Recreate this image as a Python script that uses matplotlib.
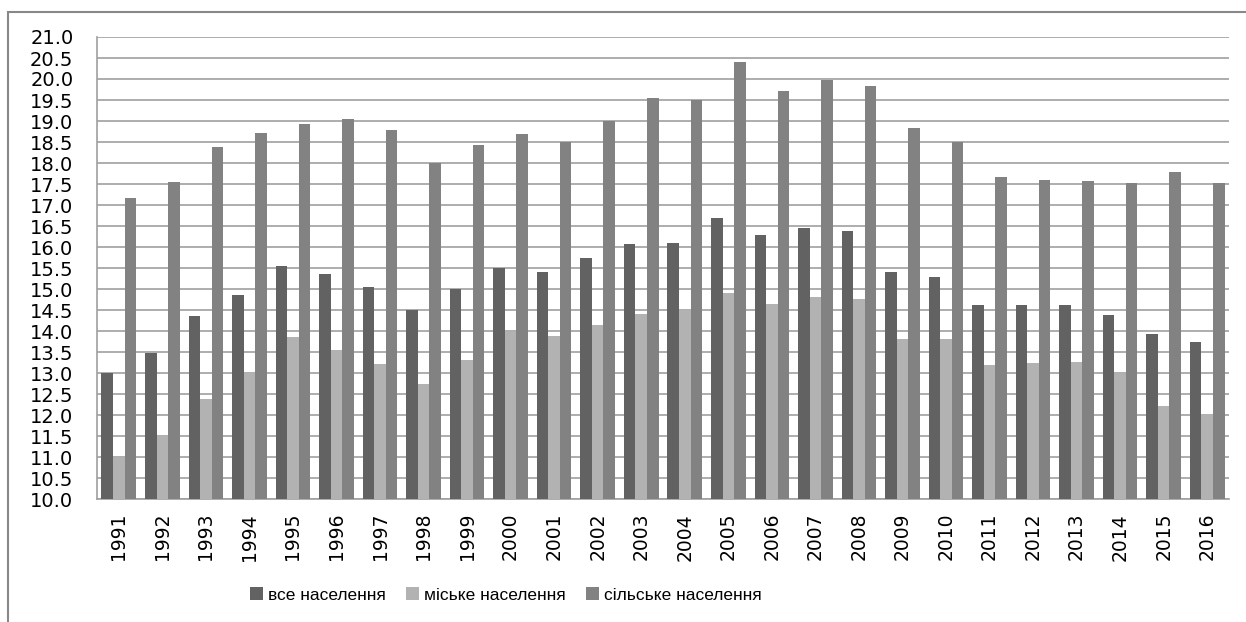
import matplotlib
matplotlib.use("Agg")
import matplotlib.pyplot as plt
import numpy as np
from matplotlib.patches import Rectangle

years = [str(y) for y in range(1991, 2017)]
all_pop = [13.0, 13.47, 14.35, 14.86, 15.54, 15.36, 15.05, 14.49, 15.0, 15.51,
           15.41, 15.75, 16.08, 16.10, 16.68, 16.29, 16.46, 16.39, 15.41, 15.28,
           14.61, 14.61, 14.63, 14.38, 13.94, 13.73]
urban = [10.98, 11.51, 12.39, 13.0, 13.86, 13.55, 13.22, 12.75, 13.32, 13.97,
         13.89, 14.15, 14.41, 14.50, 14.90, 14.64, 14.82, 14.76, 13.81, 13.81,
         13.19, 13.24, 13.27, 12.97, 12.21, 12.03]
rural = [17.16, 17.55, 18.38, 18.71, 18.94, 19.05, 18.78, 18.0, 18.43, 18.69,
         18.50, 19.01, 19.54, 19.51, 20.40, 19.72, 19.98, 19.83, 18.84, 18.50,
         17.66, 17.60, 17.58, 17.52, 17.78, 17.52]
series_names = ["все населення", "міське населення", "сільське населення"]
colors = ["#626262", "#b2b2b2", "#828282"]

plt.rcParams['font.family'] = ['DejaVu Sans']

fig = plt.figure(figsize=(12.46, 6.22), dpi=100)
# outer chart border (left and top visible)
fig.patches.append(Rectangle((8/1246, -0.1), 1.2, 1 - 12/622 + 0.1,
                             transform=fig.transFigure, fill=False,
                             edgecolor="#888888", linewidth=1.5))

ax = fig.add_axes([97/1246, 1 - 499/622, (1229-97)/1246, (499-37)/622])
x = np.arange(len(years))
w = 0.265
for i, (vals, name, c) in enumerate(zip([all_pop, urban, rural], series_names, colors)):
    ax.bar(x + (i - 1) * w, np.array(vals) - 10.0, width=w, bottom=10.0,
           color=c, label=name, zorder=3)

ax.set_xlim(-0.5, len(years) - 0.5)
ax.set_ylim(10.0, 21.0)
yt = np.arange(10.0, 21.01, 0.5)
ax.set_yticks(yt)
ax.set_yticklabels([f"{v:.1f}" for v in yt], fontsize=14)
ax.set_xticks(x)
ax.set_xticklabels(years, rotation=90, fontsize=13.5)
ax.tick_params(axis='both', length=0)
ax.tick_params(axis='x', pad=10)
ax.tick_params(axis='y', pad=17)
ax.grid(axis='y', color="#a0a0a0", linewidth=1.2, zorder=0)
for s in ["top", "right"]:
    ax.spines[s].set_visible(False)
for s in ["left", "bottom"]:
    ax.spines[s].set_color("#a0a0a0")
    ax.spines[s].set_linewidth(1.2)

leg = fig.legend(loc="center", bbox_to_anchor=(506/1246, 1 - 595/622), ncol=3,
                 frameon=False, prop={'family': 'Liberation Sans', 'size': 12.5},
                 handlelength=0.75, handleheight=0.75,
                 columnspacing=1.15, handletextpad=0.3)

fig.savefig("out.png", dpi=100)
